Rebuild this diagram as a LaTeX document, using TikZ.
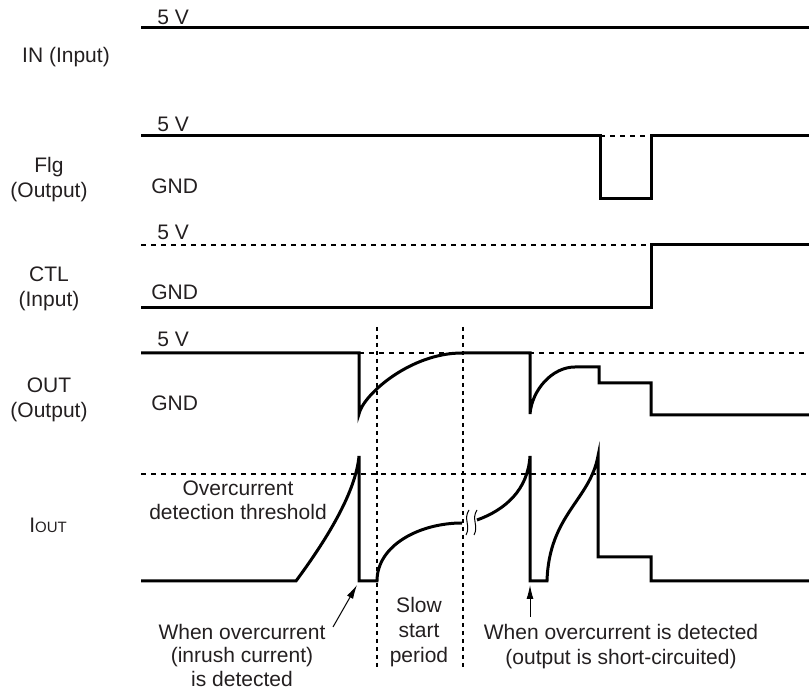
\documentclass[tikz,border=0pt]{standalone}
\usepackage{fontspec}
\setmainfont{Liberation Sans}
\usetikzlibrary{arrows.meta}
\definecolor{ink}{RGB}{35,31,32}
\begin{document}
\begin{tikzpicture}[x=0.5pt,y=-0.5pt,
  wave/.style={line width=1.5pt, line join=miter},
  guide/.style={line width=0.7pt, dash pattern=on 2.5pt off 2.5pt},
  vguide/.style={line width=0.7pt, dash pattern=on 2pt off 2pt},
  lbl/.style={inner sep=0pt, anchor=base, text=ink, font=\fontsize{10.5}{12.6}\selectfont},
  lvl/.style={lbl, anchor=base west},
  pointer/.style={line width=0.5pt, -{Latex[length=7pt,width=3.5pt]}},
  brk/.style={line width=0.5pt}]
\useasboundingbox (0,0) rectangle (809,694);

% signal names
\node[lbl] (inlbl) at (66,63) {IN (Input)};
\node[lbl] (flgA) at (49,173) {Flg};
\node[lbl] (flgB) at (49,198) {(Output)};
\node[lbl] (ctlA) at (49,282) {CTL};
\node[lbl] (ctlB) at (49,307) {(Input)};
\node[lbl] (outA) at (49,393) {OUT};
\node[lbl] (outB) at (49,418) {(Output)};
\node[lbl] (iout) at (48,533) {I{\fontsize{7.5}{9}\selectfont OUT}};

% level labels
\node[lvl] (v5a) at (157,25) {5 V};
\node[lvl] (v5b) at (157,132) {5 V};
\node[lvl] (v5c) at (157,240) {5 V};
\node[lvl] (v5d) at (157,347) {5 V};
\node[lvl] (gnda) at (151,194) {GND};
\node[lvl] (gndb) at (151,300) {GND};
\node[lvl] (gndc) at (151,411) {GND};

% annotations
\node[lbl] (thrA) at (238,496) {Overcurrent};
\node[lbl] (thrB) at (238,520) {detection threshold};
\node[lbl] (inrA) at (242,640) {When overcurrent};
\node[lbl] (inrB) at (242,663) {(inrush current)};
\node[lbl] (inrC) at (242,687) {is detected};
\node[lbl] (ssA) at (419,613) {Slow};
\node[lbl] (ssB) at (419,638) {start};
\node[lbl] (ssC) at (419,663) {period};
\node[lbl] (scA) at (621,640) {When overcurrent is detected};
\node[lbl] (scB) at (621,665) {(output is short-circuited)};

% guides
\draw[vguide] (377,327) -- (377,669);
\draw[vguide] (463,327) -- (463,669);
\draw[guide] (600,136) -- (651,136);
\draw[guide] (141,245) -- (651,245);
\draw[guide] (359,353) -- (809,353);
\draw[guide] (141,474) -- (809,474);

% IN
\draw[wave] (141,28) -- (809,28);
% Flg
\draw[wave] (141,136) -- (600,136) -- (600,199) -- (651,199) -- (651,136) -- (809,136);
% CTL
\draw[wave] (141,308) -- (651,308) -- (651,245) -- (809,245);
% OUT
\draw[wave] (141,353) -- (359,353) -- (359,414)
  .. controls (363,395) and (410,353) .. (462,353) -- (530,353) -- (530,414)
  .. controls (532,390) and (552,367) .. (575,367) -- (599,367) -- (599,383)
  -- (651,383) -- (651,415) -- (809,415);
% IOUT
\draw[wave] (141,581) -- (296,581)
  .. controls (330,535) and (356,490) .. (359,456) -- (359,581) -- (377,581)
  .. controls (377,545) and (420,523) .. (462,523);
\draw[wave] (477,520) .. controls (505,510) and (528,490) .. (530,456)
  -- (530,581) -- (547,581)
  .. controls (549,515) and (590,500) .. (598,456) -- (598,557)
  -- (651,557) -- (651,581) -- (809,581);
% break mark
\draw[brk] (469,510) .. controls (463,519) and (471,526) .. (466,535);
\draw[brk] (477,510) .. controls (471,519) and (479,526) .. (474,535);

% pointers
\coordinate (p1tail) at (333,627);
\coordinate (p1head) at (357,585);
\coordinate (p2tail) at (530,617);
\coordinate (p2head) at (530,585);
\draw[pointer] (p1tail) -- (p1head);
\draw[pointer] (p2tail) -- (p2head);
\end{tikzpicture}
\end{document}
